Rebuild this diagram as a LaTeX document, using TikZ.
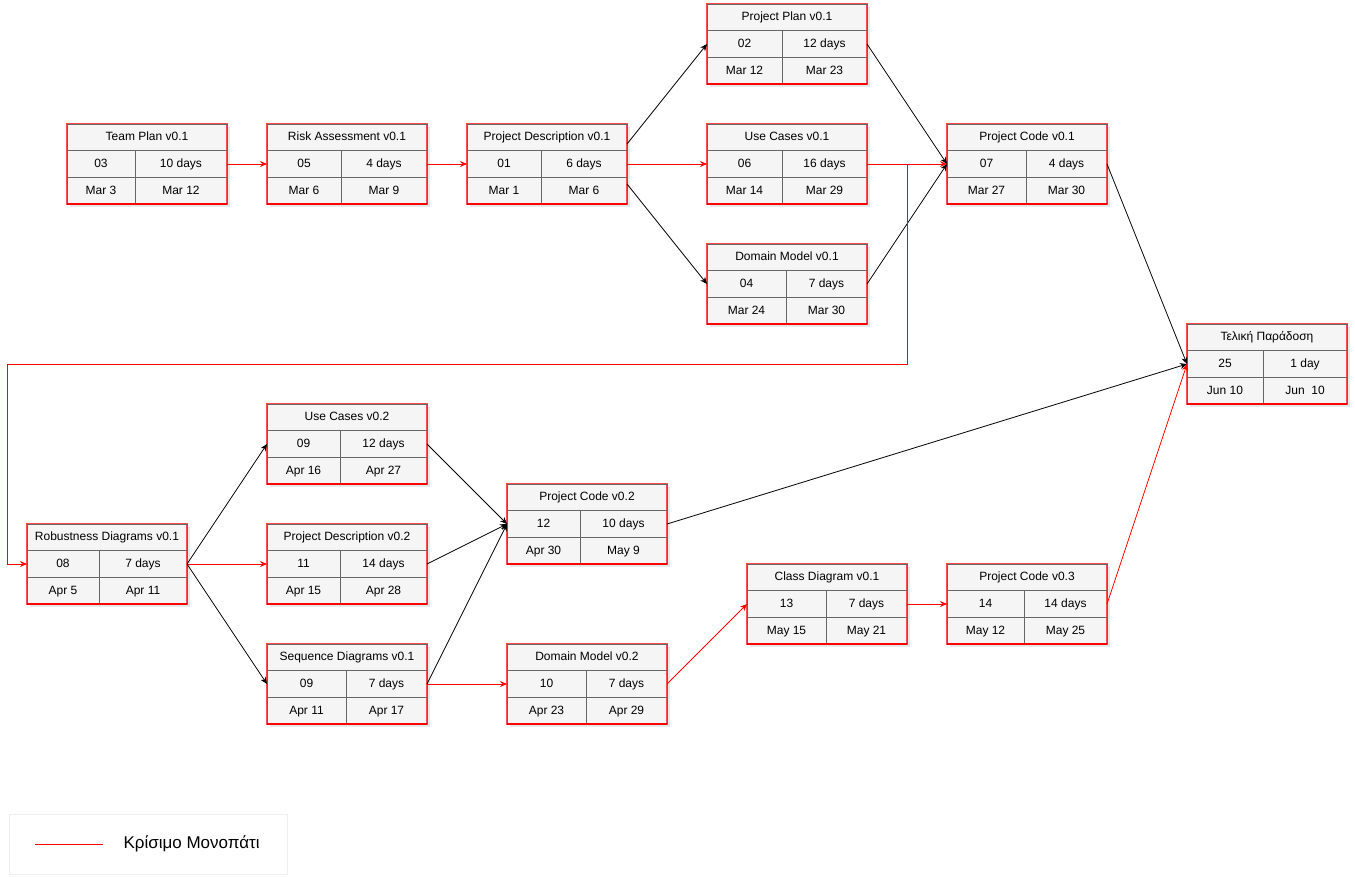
\documentclass[tikz,border=0pt]{standalone}
\usepackage{fontspec}
\setmainfont{Liberation Sans}
\usetikzlibrary{arrows.meta,shadows}

\definecolor{boxfill}{HTML}{F5F5F5}
\definecolor{boxline}{HTML}{666666}
\definecolor{legendline}{HTML}{EEEEEE}

\tikzset{
  pertbox/.style={draw=red!70, line width=1.3pt, fill=boxfill, minimum width=160pt,
    minimum height=80pt, outer sep=0pt, inner sep=0pt,
    drop shadow={shadow xshift=2.5pt, shadow yshift=-2.5pt, opacity=0.18}},
  cell/.style={font=\fontsize{12}{14}\selectfont, inner sep=0pt, text height=9pt, text depth=2.5pt},
  gridline/.style={draw=boxline, line width=1pt},
  link/.style={-{Stealth[length=7pt,width=6pt]}, line width=0.8pt},
  crit/.style={link, red},
}

% name, left, top, split, title, id, duration, start, finish
\newcommand{\task}[9]{%
  \node[pertbox] (#1) at (#2+80,#3+40) {};
  \draw[gridline] (#1.south west) -- (#1.north west) -- (#1.north east) -- (#1.south east);
  \draw[red, line width=1.4pt] (#1.south west) -- (#1.south east);
  \draw[gridline] (#2,#3+26) -- ++(160,0) (#2,#3+53) -- ++(160,0) (#4,#3+26) -- (#4,#3+79.3);
  \node[cell] (#1-title) at (#2+80,#3+13.5) {#5};
  \node[cell] (#1-id) at ({(#2+#4)/2},#3+40) {#6};
  \node[cell] (#1-dur) at ({(#4+#2+160)/2},#3+40) {#7};
  \node[cell] (#1-start) at ({(#2+#4)/2},#3+67) {#8};
  \node[cell] (#1-end) at ({(#4+#2+160)/2},#3+67) {#9};
}

\begin{document}
\begin{tikzpicture}[x=1pt, y=-1pt]
    \fill[white] (0,0) rectangle (1355,876);
    \useasboundingbox (0,0) rectangle (1355,876);

    \task{tp}{67}{124}{135}{Team Plan v0.1}{03}{10 days}{Mar 3}{Mar 12}
    \task{ra}{267}{124}{341}{Risk Assessment v0.1}{05}{4 days}{Mar 6}{Mar 9}
    \task{pd1}{467}{124}{541}{Project Description v0.1}{01}{6 days}{Mar 1}{Mar 6}
    \task{pp}{707}{4}{782}{Project Plan v0.1}{02}{12 days}{Mar 12}{Mar 23}
    \task{uc1}{707}{124}{782}{Use Cases v0.1}{06}{16 days}{Mar 14}{Mar 29}
    \task{dm1}{707}{244}{786}{Domain Model v0.1}{04}{7 days}{Mar 24}{Mar 30}
    \task{pc1}{947}{124}{1026}{Project Code v0.1}{07}{4 days}{Mar 27}{Mar 30}
    \task{fin}{1187}{324}{1263}{Τελική Παράδοση}{25}{1 day}{Jun 10}{Jun~~10}
    \task{uc2}{267}{404}{340}{Use Cases v0.2}{09}{12 days}{Apr 16}{Apr 27}
    \task{rob}{27}{524}{99}{Robustness Diagrams v0.1}{08}{7 days}{Apr 5}{Apr 11}
    \task{pd2}{267}{524}{340}{Project Description v0.2}{11}{14 days}{Apr 15}{Apr 28}
    \task{sd}{267}{644}{346}{Sequence Diagrams v0.1}{09}{7 days}{Apr 11}{Apr 17}
    \task{pc2}{507}{484}{580}{Project Code v0.2}{12}{10 days}{Apr 30}{May 9}
    \task{dm2}{507}{644}{586}{Domain Model v0.2}{10}{7 days}{Apr 23}{Apr 29}
    \task{cd}{747}{564}{826}{Class Diagram v0.1}{13}{7 days}{May 15}{May 21}
    \task{pc3}{947}{564}{1024}{Project Code v0.3}{14}{14 days}{May 12}{May 25}

    \coordinate (split) at (907,164);
    \coordinate (loop) at (7,364);

    \draw[crit] (tp.east) -- (ra.west);
    \draw[crit] (ra.east) -- (pd1.west);
    \draw[link] ([yshift=20pt]pd1.east) -- (pp.west);
    \draw[crit] (pd1.east) -- (uc1.west);
    \draw[link] ([yshift=-20pt]pd1.east) -- (dm1.west);
    \draw[link] (pp.east) -- (pc1.west);
    \draw[crit] (uc1.east) -- (pc1.west);
    \draw[link] (dm1.east) -- (pc1.west);
    \draw[link] (pc1.east) -- (fin.west);
    \draw[crit] (split) |- (loop) |- (rob.west);
    \draw[link] (rob.east) -- (uc2.west);
    \draw[crit] (rob.east) -- (pd2.west);
    \draw[link] (rob.east) -- (sd.west);
    \draw[link] (uc2.east) -- (pc2.west);
    \draw[link] (pd2.east) -- (pc2.west);
    \draw[link] (sd.east) -- (pc2.west);
    \draw[crit] (sd.east) -- (dm2.west);
    \draw[link] (pc2.east) -- (fin.west);
    \draw[crit] (dm2.east) -- (cd.west);
    \draw[crit] (cd.east) -- (pc3.west);
    \draw[crit] (pc3.east) -- (fin.west);

    % legend
    \node[draw=legendline, line width=1pt, minimum width=278pt, minimum height=60pt] (legend) at (148,844) {};
    \coordinate (keyA) at (35,844);
    \coordinate (keyB) at (103,844);
    \draw[red, line width=0.8pt] (keyA) -- (keyB);
    \node[anchor=west, font=\fontsize{17}{20}\selectfont] (keytext) at (120,844) {Κρίσιμο Μονοπάτι};
\end{tikzpicture}
\end{document}
